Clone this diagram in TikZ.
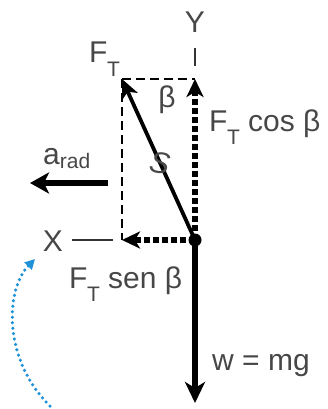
\documentclass[tikz,border=0pt]{standalone}
\usepackage{fontspec}
\setmainfont{Liberation Sans}
\usetikzlibrary{arrows.meta}
\newcommand{\FTsub}{F\kern-0.5pt\raisebox{-0.45em}{\fontsize{21}{23}\selectfont T}}
\definecolor{turnblue}{RGB}{30,145,215}
\begin{document}
\begin{tikzpicture}[x=1pt,y=-1pt,
  lbl/.style={text=black!72, font=\fontsize{30}{32}\selectfont, inner sep=0pt},
  guide/.style={draw=black, line width=2pt, dash pattern=on 9pt off 5pt},
  comp/.style={draw=black, line width=5.5pt, dash pattern=on 6pt off 3pt, -{Stealth[length=18pt,width=17pt,inset=5pt]}},
  force/.style={draw=black, line width=5.5pt, -{Stealth[length=21pt,width=20pt,inset=6pt]}},
  axis/.style={draw=black!80, line width=1.5pt},
  turn/.style={draw=turnblue, line width=3.5pt, dash pattern=on 0pt off 5.5pt, line cap=round, -{Triangle[length=10pt,width=10pt,fill=turnblue]}}]
\useasboundingbox (0,0) rectangle (327,409);
% points
\coordinate (O) at (195,240);
\coordinate (Tc) at (122,79);
\coordinate (Ycorner) at (195,79);
\coordinate (Xcorner) at (122,240);
\coordinate (Wend) at (195,403);
\coordinate (Ytop) at (195,48);
\coordinate (Yaxb) at (195,66);
\coordinate (Xa) at (72,240);
\coordinate (Xb) at (113,240);
\coordinate (Ar1) at (108,183);
\coordinate (Ar2) at (30,183);
\coordinate (Arc1) at (50,406);
\coordinate (Arc2) at (35,259);
% guides
\draw[guide] (Tc) -- (Ycorner);
\draw[guide] (Tc) -- (Xcorner);
\draw[axis] (Ytop) -- (Yaxb);
\draw[axis] (Xa) -- (Xb);
% forces
\draw[comp] (O) -- (Ycorner);
\draw[comp] (O) -- (Xcorner);
\draw[line width=3.8pt, -{Stealth[length=19pt,width=17pt,inset=5pt]}] (O) -- (Tc);
\draw[force] (O) -- (Wend);
\draw[line width=6pt, -{Stealth[length=19pt,width=21pt,inset=5pt]}] (Ar1) -- (Ar2);
\fill (O) circle (6.5pt);
% rotation
\draw[turn] (Arc1) .. controls (3,360) and (5,290) .. (Arc2);
% labels
\node[lbl] (ly) at (195,22) {Y};
\node[lbl, anchor=base west] (lft) at (89,63) {\FTsub};
\node[lbl] (lb) at (167,100) {β};
\node[lbl, anchor=base west] (lcos) at (209,131) {\FTsub\ cos β};
\node[lbl, anchor=base west] (lar) at (43,164) {a\raisebox{-0.15em}{\fontsize{21}{23}\selectfont rad}};
\node[lbl, rotate=-10] (ls) at (160,163) {\textit{S}};
\node[lbl] (lx) at (53,241) {X};
\node[lbl, anchor=base west] (lsen) at (69,288) {\FTsub\ sen β};
\node[lbl, anchor=base west] (lw) at (212,370) {w = mg};
\end{tikzpicture}
\end{document}
